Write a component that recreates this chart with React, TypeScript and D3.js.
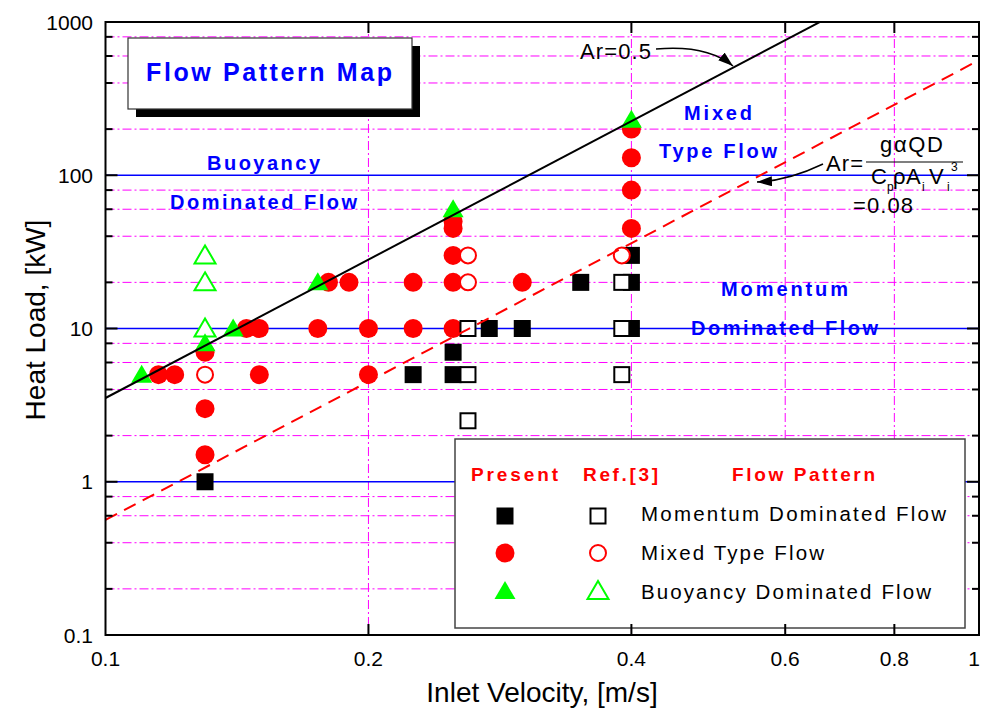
import React from "react";
import * as d3 from "d3";

// ---------- data ----------
// Present study
const presentMomentum: [number, number][] = [
  [0.13, 1], [0.225, 5], [0.25, 7], [0.25, 5], [0.275, 10], [0.3, 10],
  [0.35, 20], [0.4, 30], [0.4, 20], [0.4, 10],
];
const presentMixed: [number, number][] = [
  [0.115, 5], [0.12, 5], [0.13, 7], [0.13, 3], [0.13, 1.5], [0.145, 10],
  [0.15, 10], [0.15, 5], [0.175, 10], [0.18, 20], [0.19, 20], [0.2, 10],
  [0.2, 5], [0.225, 20], [0.225, 10], [0.25, 50], [0.25, 45], [0.25, 30],
  [0.25, 20], [0.25, 10], [0.3, 20], [0.4, 200], [0.4, 130], [0.4, 80], [0.4, 45],
];
const presentBuoyancy: [number, number][] = [
  [0.11, 5], [0.13, 8], [0.14, 10], [0.175, 20], [0.25, 60], [0.4, 230],
];
// Ref.[3]
const refMomentum: [number, number][] = [
  [0.26, 10], [0.26, 5], [0.26, 2.5], [0.39, 20], [0.39, 10], [0.39, 5],
];
const refMixed: [number, number][] = [[0.13, 5], [0.26, 30], [0.26, 20], [0.39, 30]];
const refBuoyancy: [number, number][] = [[0.13, 30], [0.13, 20], [0.13, 10]];

// Archimedes-number criterion lines: Q = K * Ar * V^3
const arK = 7040;
const arSolid = 0.5;
const arDashed = 0.08;

const xTicks = [0.1, 0.2, 0.4, 0.6, 0.8, 1];
const xTickLabels = ["0.1", "0.2", "0.4", "0.6", "0.8", "1"];
const xGrid = [0.2, 0.4, 0.6, 0.8];
const yMajor = [0.1, 1, 10, 100, 1000];
const yMajorLabels = ["0.1", "1", "10", "100", "1000"];
const yMinor = [0.2, 0.4, 0.6, 0.8, 2, 4, 6, 8, 20, 40, 60, 80, 200, 400, 600, 800];
const yBlueLines = [1, 10, 100];

const FONT = "'Liberation Sans', Arial, Helvetica, sans-serif";
const MAGENTA = "#ff00ff";
const RED = "#ff0000";
const GREEN = "#00ff00";
const BLUE = "#0000ff";

const triPath = "M0,-10 L10.5,8 L-10.5,8 Z";

export default function App() {
  const x0 = 105.5, x1 = 979, y0 = 22, y1 = 635;
  const x = d3.scaleLog().domain([0.1, 1]).range([x0, x1]);
  const y = d3.scaleLog().domain([0.1, 1000]).range([y1, y0]);

  const arLine = (ar: number) =>
    d3.line<number>().x((v) => x(v)).y((v) => y(arK * ar * v * v * v))([0.1, 1]) || "";

  const blueText = (t: string, cx0: number, cx1: number, base: number, size = 20) => (
    <text x={cx0} y={base} fontFamily={FONT} fontWeight="bold" fontSize={size} fill={BLUE}
      textLength={cx1 - cx0} lengthAdjust="spacing">{t}</text>
  );
  const plainText = (t: string, a: number, b: number, base: number, size: number, fill = "#000", bold = false) => (
    <text x={a} y={base} fontFamily={FONT} fontSize={size} fill={fill} fontWeight={bold ? "bold" : "normal"}
      textLength={b - a} lengthAdjust="spacing">{t}</text>
  );

  return (
    <svg width={982} height={713} style={{ position: "absolute", left: 0, top: 0, background: "#fff" }}>
      <defs>
        <clipPath id="plot"><rect x={x0} y={y0} width={x1 - x0} height={y1 - y0} /></clipPath>
        <marker id="ah" markerUnits="userSpaceOnUse" markerWidth={16} markerHeight={10}
          refX={15} refY={5} orient="auto">
          <path d="M0,0 L15,5 L0,10 Z" fill="#000" />
        </marker>
      </defs>
      <rect x={0} y={0} width={982} height={713} fill="#fff" />

      {/* grid */}
      {yMinor.map((v) => (
        <line key={"gy" + v} x1={x0} x2={x1} y1={y(v)} y2={y(v)} stroke={MAGENTA} strokeWidth={1}
          strokeDasharray="9 3 2 3" />
      ))}
      {xGrid.map((v) => (
        <line key={"gx" + v} x1={x(v)} x2={x(v)} y1={y0} y2={y1} stroke={MAGENTA} strokeWidth={1}
          strokeDasharray="9 3 2 3" />
      ))}
      {yBlueLines.map((v) => (
        <line key={"bl" + v} x1={x0} x2={x1} y1={y(v)} y2={y(v)} stroke={BLUE} strokeWidth={1.3} />
      ))}

      {/* title box */}
      <rect x={136} y={46} width={284} height={71} fill="#000" />
      <rect x={128} y={38} width={284} height={71} fill="#fff" stroke="#333" strokeWidth={1.2} />
      <text x={146} y={81} fontFamily={FONT} fontWeight="bold" fontSize={25} fill={BLUE}
        textLength={246} lengthAdjust="spacing">Flow Pattern Map</text>

      {/* region labels */}
      {blueText("Buoyancy", 207, 320, 170)}
      {blueText("Dominated Flow", 170, 357, 209)}
      {blueText("Mixed", 684, 752, 120)}
      {blueText("Type Flow", 659, 777, 158)}
      {blueText("Momentum", 721, 848, 296)}
      {blueText("Dominated Flow", 691, 878, 335)}

      {/* markers */}
      <g>
        {presentMixed.map(([v, q], i) => (
          <circle key={"pm" + i} cx={x(v)} cy={y(q)} r={9.5} fill={RED} />
        ))}
        {presentMomentum.map(([v, q], i) => (
          <rect key={"ps" + i} x={x(v) - 8.5} y={y(q) - 8.5} width={17} height={17} fill="#000" />
        ))}
        {refMixed.map(([v, q], i) => (
          <circle key={"rm" + i} cx={x(v)} cy={y(q)} r={8} fill="#fff" stroke={RED} strokeWidth={2} />
        ))}
        {refMomentum.map(([v, q], i) => (
          <rect key={"rs" + i} x={x(v) - 7.5} y={y(q) - 7.5} width={15} height={15} fill="#fff"
            stroke="#000" strokeWidth={2} />
        ))}
        {refBuoyancy.map(([v, q], i) => (
          <path key={"rb" + i} d={triPath} transform={`translate(${x(v)},${y(q)})`} fill="#fff"
            stroke={GREEN} strokeWidth={2} />
        ))}
        {presentBuoyancy.map(([v, q], i) => (
          <path key={"pb" + i} d={triPath} transform={`translate(${x(v)},${y(q)})`} fill={GREEN} />
        ))}
      </g>

      {/* criterion lines */}
      <g clipPath="url(#plot)">
        <path d={arLine(arSolid)} stroke="#000" strokeWidth={2} fill="none" />
        <path d={arLine(arDashed)} stroke={RED} strokeWidth={2} fill="none" strokeDasharray="13 8" />
      </g>

      {/* annotations */}
      {plainText("Ar=0.5", 580, 651, 59, 22)}
      <path d="M656,49 C690,46 716,52 733,66" stroke="#000" strokeWidth={1.5} fill="none" markerEnd="url(#ah)" />
      {plainText("Ar=", 826, 863, 171, 22)}
      <line x1={866} x2={963} y1={162} y2={162} stroke="#000" strokeWidth={1.2} />
      <text x={880} y={152} fontFamily={FONT} fontSize={22} textLength={63} lengthAdjust="spacing">gαQD</text>
      <text x={871} y={184} fontFamily={FONT} fontSize={22}>C</text>
      <text x={887} y={191} fontFamily={FONT} fontSize={12}>p</text>
      <text x={893} y={184} fontFamily={FONT} fontSize={22}>ρ</text>
      <text x={906} y={184} fontFamily={FONT} fontSize={22}>A</text>
      <text x={922} y={191} fontFamily={FONT} fontSize={12}>i</text>
      <text x={929} y={184} fontFamily={FONT} fontSize={22}>V</text>
      <text x={947} y={191} fontFamily={FONT} fontSize={12}>i</text>
      <text x={951} y={171} fontFamily={FONT} fontSize={12}>3</text>
      {plainText("=0.08", 853, 913, 213, 22)}
      <path d="M823,164 C800,175 780,181 757,182" stroke="#000" strokeWidth={1.5} fill="none" markerEnd="url(#ah)" />

      {/* legend */}
      <rect x={455} y={439} width={510} height={189} fill="#fff" stroke="#444" strokeWidth={1.5} />
      {plainText("Present", 471, 558, 481, 19, RED, true)}
      {plainText("Ref.[3]", 583, 658, 481, 19, RED, true)}
      {plainText("Flow Pattern", 732, 875, 481, 19, RED, true)}
      <rect x={505 - 8.5} y={516 - 8.5} width={17} height={17} fill="#000" />
      <rect x={598 - 7.5} y={516 - 7.5} width={15} height={15} fill="#fff" stroke="#000" strokeWidth={2} />
      <circle cx={505} cy={553} r={9.5} fill={RED} />
      <circle cx={598} cy={553} r={8} fill="#fff" stroke={RED} strokeWidth={2} />
      <path d={triPath} transform="translate(505,591)" fill={GREEN} />
      <path d={triPath} transform="translate(598,591)" fill="#fff" stroke={GREEN} strokeWidth={2} />
      {plainText("Momentum Dominated Flow", 641, 946, 521, 20.5)}
      {plainText("Mixed Type Flow", 641, 824, 560, 20.5)}
      {plainText("Buoyancy Dominated Flow", 641, 931, 599, 20.5)}

      {/* axes frame and ticks */}
      <rect x={x0} y={y0} width={x1 - x0} height={y1 - y0} fill="none" stroke="#000" strokeWidth={2} />
      {yMajor.map((v) => (
        <g key={"ym" + v}>
          <line x1={x0} x2={x0 + 12} y1={y(v)} y2={y(v)} stroke="#000" strokeWidth={2} />
          <line x1={x1} x2={x1 - 12} y1={y(v)} y2={y(v)} stroke="#000" strokeWidth={2} />
        </g>
      ))}
      {yMinor.map((v) => (
        <g key={"yn" + v}>
          <line x1={x0} x2={x0 + 7} y1={y(v)} y2={y(v)} stroke="#000" strokeWidth={2} />
          <line x1={x1} x2={x1 - 7} y1={y(v)} y2={y(v)} stroke="#000" strokeWidth={2} />
        </g>
      ))}
      {xGrid.map((v) => (
        <g key={"xt" + v}>
          <line x1={x(v)} x2={x(v)} y1={y1} y2={y1 - 11} stroke="#000" strokeWidth={2} />
          <line x1={x(v)} x2={x(v)} y1={y0} y2={y0 + 11} stroke="#000" strokeWidth={2} />
        </g>
      ))}
      {xTicks.map((v, i) => (
        <text key={"xl" + v} x={Math.min(x(v), 974)} y={666} textAnchor="middle" fontFamily={FONT} fontSize={21}>
          {xTickLabels[i]}
        </text>
      ))}
      {yMajor.map((v, i) => (
        <text key={"yl" + v} x={93} y={y(v) + 7.5} textAnchor="end" fontFamily={FONT} fontSize={21}>
          {yMajorLabels[i]}
        </text>
      ))}
      <text x={542} y={702} textAnchor="middle" fontFamily={FONT} fontSize={28}>Inlet Velocity, [m/s]</text>
      <text transform="translate(45,320) rotate(-90)" textAnchor="middle" fontFamily={FONT} fontSize={28}>
        Heat Load, [kW]
      </text>
    </svg>
  );
}
